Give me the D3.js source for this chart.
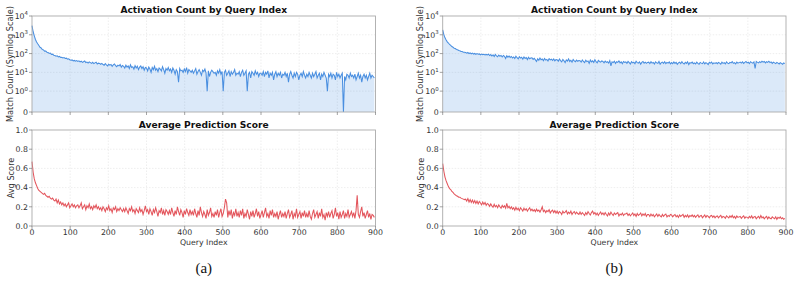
<!DOCTYPE html>
<html lang="en">
<head>
<meta charset="UTF-8">
<title>Activation Count and Average Prediction Score</title>
<script src="https://d3js.org/d3.v7.min.js"></script>
<style>
  body { margin: 0; background: #fff; }
  text { font-family: "DejaVu Sans", sans-serif; fill: #333; }
</style>
</head>
<body>
<svg width="799" height="282"></svg>
<script>
// query index step used when reading the curves off the picture
const step = 3;
const queryIdx = d3.range(0, 900, step);
const xTicks = [0, 100, 200, 300, 400, 500, 600, 700, 800, 900];
const countTicks = [0, 1, 10, 100, 1000, 10000];
const countTickLabels = [["0", ""], ["10", "0"], ["10", "1"], ["10", "2"], ["10", "3"], ["10", "4"]];
const scoreTicks = [0, 0.2, 0.4, 0.6, 0.8, 1.0];
const titles = ["Activation Count by Query Index", "Average Prediction Score"];
const captions = ["(a)", "(b)"];

// (a) match counts
const countsA = [
 3100,1450,880,560,410,330,270,215,200,165,158,135,138,118,115,102,106,90,93,82,
 78,72,76,66,70,62,64,58,61,55,57,50,53,47,44,46,41,43,39,42,
 38,41,36,39,34,37,40,33,35,31,36,33,30,34,29,32,35,28,31,30,
 27,30,26,24,29,25,22,27,24,26,21,25,28,23,20,24,22,26,19,23,
 21,17,24,19,22,16,25,18,20,15,23,17,21,14,19,22,16,20,13,18,
 17,12,19,15,10,18,14,21,13,16,11,17,15,12,20,14,9,16,13,18,
 12,15,10,17,13,8,14,11,3,16,12,13,10,15,11,18,9,14,12,10,
 13,9,12,16,8,11,14,10,7,13,11,15,9,1,12,6,10,13,11,9,
 10,7,12,9,14,8,11,1,10,13,7,9,12,6,11,8,10,14,7,9,
 8,11,6,10,13,7,9,12,1,8,10,5,11,9,7,12,8,10,6,9,
 9,7,11,6,10,8,12,5,9,7,10,4,8,11,6,9,7,10,5,8,
 7,10,6,9,3,8,11,7,5,9,6,10,8,4,7,9,6,11,7,5,
 8,6,10,7,5,9,6,8,11,5,7,9,4,8,6,10,7,5,1,8,
 6,9,5,8,7,4,10,6,8,5,7,9,0,6,4,8,7,5,9,6,
 7,5,8,4,6,9,5,7,3,6,8,5,7,4,6,9,5,7,6,5
];
// (b) match counts
const countsB = [
 1850,1020,690,530,420,365,305,275,236,218,192,184,165,160,145,142,130,128,118,117,
 113,104,114,100,108,97,105,94,101,90,99,92,96,86,94,88,92,84,90,85,
 92,78,88,74,85,70,90,76,68,84,72,80,66,79,71,55,76,64,73,62,
 70,58,66,54,72,60,52,68,57,63,50,66,55,61,48,64,53,58,60,49,
 56,46,38,53,44,58,47,51,42,55,45,49,40,54,46,50,43,52,41,48,
 47,39,51,42,36,49,41,33,46,40,52,38,44,35,48,41,37,45,39,43,
 42,35,46,38,33,44,37,40,30,45,36,41,34,47,37,32,43,38,35,41,
 38,32,40,34,37,31,42,22,36,33,39,30,37,34,41,32,36,29,38,34,
 36,30,38,33,28,37,32,35,29,39,33,31,36,27,34,38,31,35,30,34,
 35,29,37,31,34,28,36,32,30,38,27,33,35,30,37,29,34,31,36,28,
 33,29,36,30,34,27,32,35,29,37,31,28,34,30,36,26,33,31,35,29,
 32,28,35,30,27,34,31,29,36,28,33,30,26,34,31,35,28,32,30,33,
 29,34,31,27,35,30,33,28,36,31,29,34,32,37,30,33,28,35,31,33,
 35,31,36,30,34,38,32,35,29,37,33,31,36,16,38,34,32,37,33,39,
 35,38,32,37,34,39,33,36,30,35,32,29,34,31,28,33,30,27,32,29
];
// (a) average score
const scoresA = [
 0.67,0.56,0.49,0.45,0.42,0.39,0.37,0.36,0.35,0.34,0.33,0.34,0.32,0.31,0.30,0.31,0.29,0.28,0.29,0.27,
 0.26,0.28,0.24,0.27,0.23,0.25,0.22,0.24,0.21,0.23,0.20,0.22,0.24,0.19,0.21,0.23,0.20,0.22,0.19,0.21,
 0.22,0.19,0.21,0.24,0.18,0.20,0.22,0.17,0.21,0.19,0.23,0.18,0.20,0.17,0.21,0.19,0.22,0.18,0.20,0.17,
 0.19,0.16,0.20,0.18,0.15,0.19,0.17,0.21,0.16,0.18,0.14,0.19,0.17,0.20,0.15,0.18,0.16,0.19,0.17,0.15,
 0.18,0.15,0.19,0.16,0.13,0.18,0.16,0.20,0.15,0.17,0.13,0.18,0.16,0.14,0.19,0.15,0.17,0.12,0.16,0.21,
 0.15,0.17,0.12,0.18,0.15,0.11,0.17,0.14,0.19,0.15,0.10,0.16,0.14,0.19,0.12,0.16,0.11,0.17,0.15,0.12,
 0.16,0.12,0.19,0.14,0.10,0.16,0.12,0.20,0.15,0.11,0.17,0.14,0.09,0.16,0.12,0.18,0.14,0.11,0.17,0.12,
 0.15,0.11,0.18,0.13,0.09,0.16,0.11,0.20,0.14,0.10,0.15,0.12,0.08,0.17,0.11,0.14,0.19,0.10,0.13,0.09,
 0.15,0.11,0.17,0.09,0.14,0.18,0.10,0.13,0.19,0.28,0.24,0.09,0.16,0.11,0.17,0.08,0.14,0.11,0.18,0.10,
 0.14,0.09,0.16,0.11,0.18,0.08,0.13,0.10,0.17,0.12,0.07,0.15,0.10,0.16,0.09,0.13,0.18,0.10,0.15,0.08,
 0.12,0.16,0.09,0.14,0.19,0.10,0.13,0.08,0.16,0.11,0.17,0.09,0.13,0.10,0.15,0.07,0.12,0.16,0.09,0.13,
 0.10,0.15,0.08,0.13,0.17,0.09,0.12,0.16,0.07,0.13,0.10,0.18,0.09,0.12,0.15,0.08,0.14,0.10,0.16,0.09,
 0.13,0.09,0.16,0.10,0.07,0.13,0.17,0.09,0.12,0.15,0.08,0.14,0.10,0.18,0.09,0.12,0.06,0.14,0.10,0.15,
 0.09,0.13,0.16,0.08,0.12,0.19,0.10,0.14,0.07,0.15,0.09,0.12,0.16,0.08,0.13,0.10,0.17,0.09,0.12,0.15,
 0.10,0.14,0.08,0.16,0.32,0.12,0.09,0.15,0.20,0.10,0.14,0.08,0.12,0.16,0.09,0.13,0.07,0.12,0.11,0.09
];
// (b) average score
const scoresB = [
 0.65,0.57,0.51,0.47,0.44,0.41,0.39,0.38,0.36,0.35,0.335,0.325,0.315,0.31,0.30,0.30,0.29,0.285,0.28,0.275,
 0.28,0.26,0.285,0.25,0.275,0.245,0.27,0.24,0.265,0.235,0.26,0.23,0.255,0.24,0.22,0.25,0.225,0.245,0.215,0.235,
 0.225,0.205,0.23,0.21,0.195,0.225,0.2,0.215,0.19,0.22,0.2,0.185,0.215,0.195,0.21,0.185,0.235,0.19,0.205,0.18,
 0.2,0.175,0.19,0.165,0.195,0.17,0.185,0.16,0.19,0.175,0.155,0.185,0.165,0.18,0.155,0.175,0.19,0.16,0.175,0.155,
 0.17,0.15,0.175,0.155,0.165,0.145,0.17,0.2,0.15,0.165,0.14,0.16,0.15,0.17,0.135,0.155,0.165,0.14,0.16,0.135,
 0.155,0.13,0.15,0.14,0.12,0.155,0.135,0.145,0.16,0.125,0.145,0.13,0.155,0.12,0.14,0.15,0.125,0.145,0.13,0.12,
 0.145,0.12,0.14,0.125,0.11,0.14,0.12,0.15,0.13,0.115,0.14,0.155,0.125,0.14,0.115,0.135,0.11,0.13,0.145,0.12,
 0.135,0.115,0.14,0.12,0.105,0.135,0.115,0.145,0.125,0.11,0.135,0.12,0.13,0.14,0.105,0.125,0.115,0.135,0.11,0.125,
 0.125,0.135,0.11,0.125,0.105,0.12,0.135,0.11,0.125,0.1,0.13,0.11,0.12,0.135,0.105,0.125,0.11,0.13,0.1,0.12,
 0.12,0.1,0.125,0.105,0.12,0.095,0.11,0.125,0.1,0.12,0.105,0.095,0.12,0.1,0.115,0.125,0.095,0.11,0.1,0.12,
 0.115,0.095,0.11,0.12,0.095,0.11,0.09,0.115,0.1,0.11,0.12,0.09,0.11,0.095,0.115,0.09,0.11,0.1,0.115,0.095,
 0.11,0.09,0.105,0.115,0.09,0.105,0.11,0.085,0.1,0.115,0.09,0.11,0.1,0.085,0.105,0.11,0.09,0.105,0.085,0.1,
 0.105,0.085,0.1,0.11,0.085,0.1,0.095,0.08,0.105,0.095,0.085,0.105,0.09,0.11,0.085,0.1,0.08,0.105,0.09,0.095,
 0.1,0.08,0.095,0.105,0.08,0.095,0.09,0.08,0.1,0.085,0.105,0.08,0.095,0.1,0.075,0.09,0.1,0.08,0.11,0.085,
 0.095,0.075,0.09,0.1,0.075,0.095,0.08,0.075,0.095,0.085,0.075,0.095,0.07,0.09,0.08,0.095,0.075,0.085,0.07,0.08
];

const panels = [
  { left: 32, right: 375.5, counts: countsA, scores: scoresA, caption: captions[0] },
  { left: 442.7, right: 786, counts: countsB, scores: scoresB, caption: captions[1] }
];

const topY = [16, 112], botY = [130, 226];
const blue = "#4a8fe0", red = "#e0424a";

// matplotlib style symlog (linthresh 1, linscale 1, base 10)
const linAdj = 1 / (1 - 1 / 10);
const symlog = v => v <= 1 ? v * linAdj : linAdj + Math.log10(v);

const svg = d3.select("svg");

function grid(g, x, y, yTicks, yPos) {
  g.append("g").selectAll("line").data(xTicks.slice(1, -1)).join("line")
    .attr("x1", d => x(d)).attr("x2", d => x(d))
    .attr("y1", y.range()[0]).attr("y2", y.range()[1])
    .attr("stroke", "#e2e2e2").attr("stroke-width", 0.6).attr("stroke-dasharray", "1.5,1.5");
  g.append("g").selectAll("line").data(yTicks.slice(1, -1)).join("line")
    .attr("x1", x.range()[0]).attr("x2", x.range()[1])
    .attr("y1", d => y(yPos(d))).attr("y2", d => y(yPos(d)))
    .attr("stroke", "#e2e2e2").attr("stroke-width", 0.6).attr("stroke-dasharray", "1.5,1.5");
}

function spines(g, x, y, yTicks, yPos) {
  const [x0, x1] = x.range(), [y0, y1] = y.range();
  g.append("rect").attr("x", x0).attr("y", y1).attr("width", x1 - x0).attr("height", y0 - y1)
    .attr("fill", "none").attr("stroke", "#aaa").attr("stroke-width", 0.9);
  g.append("g").selectAll("line").data(xTicks).join("line")
    .attr("x1", d => x(d)).attr("x2", d => x(d)).attr("y1", y0).attr("y2", y0 + 3)
    .attr("stroke", "#666").attr("stroke-width", 0.6);
  g.append("g").selectAll("line").data(yTicks).join("line")
    .attr("x1", x0 - 3).attr("x2", x0).attr("y1", d => y(yPos(d))).attr("y2", d => y(yPos(d)))
    .attr("stroke", "#666").attr("stroke-width", 0.6);
}

panels.forEach(p => {
  const g = svg.append("g");
  const x = d3.scaleLinear().domain([0, 900]).range([p.left, p.right]);
  const yC = d3.scaleLinear().domain([0, symlog(10000)]).range([topY[1], topY[0]]);
  const yS = d3.scaleLinear().domain([0, 1]).range([botY[1], botY[0]]);
  const mid = (p.left + p.right) / 2;

  // ---- top: counts
  grid(g, x, yC, countTicks, symlog);
  const area = d3.area()
    .x((d, i) => x(queryIdx[i])).y0(yC(0)).y1(d => yC(symlog(d)));
  g.append("path").datum(p.counts).attr("d", area).attr("fill", blue).attr("fill-opacity", 0.2);
  const lineC = d3.line().x((d, i) => x(queryIdx[i])).y(d => yC(symlog(d)));
  g.append("path").datum(p.counts).attr("d", lineC)
    .attr("fill", "none").attr("stroke", blue).attr("stroke-width", 1.05);
  spines(g, x, yC, countTicks, symlog);

  const lab = g.append("g").selectAll("text").data(countTicks).join("text")
    .attr("x", p.left - 4).attr("y", d => yC(symlog(d)) + 3)
    .attr("text-anchor", "end").attr("font-size", 7.8);
  lab.append("tspan").text((d, i) => countTickLabels[i][0]);
  lab.append("tspan").attr("font-size", 5.4).attr("dy", -3.6).text((d, i) => countTickLabels[i][1]);

  g.append("text").attr("x", mid).attr("y", 13).attr("text-anchor", "middle")
    .attr("font-size", 9.1).attr("font-weight", "bold").style("fill", "#111").text(titles[0]);
  g.append("text").attr("transform", `translate(${p.left - 19.5},${(topY[0] + topY[1]) / 2}) rotate(-90)`)
    .attr("text-anchor", "middle").attr("font-size", 8.2).text("Match Count (Symlog Scale)");

  // ---- bottom: scores
  grid(g, x, yS, scoreTicks, d => d);
  const lineS = d3.line().x((d, i) => x(queryIdx[i])).y(d => yS(d));
  g.append("path").datum(p.scores).attr("d", lineS)
    .attr("fill", "none").attr("stroke", red).attr("stroke-width", 1.05).attr("stroke-opacity", 0.9);
  spines(g, x, yS, scoreTicks, d => d);

  g.append("g").selectAll("text").data(scoreTicks).join("text")
    .attr("x", p.left - 4).attr("y", d => yS(d) + 2.8)
    .attr("text-anchor", "end").attr("font-size", 7.8).text(d => d3.format(".1f")(d));
  g.append("g").selectAll("text").data(xTicks).join("text")
    .attr("x", d => x(d)).attr("y", botY[1] + 9.3)
    .attr("text-anchor", "middle").attr("font-size", 7.8).text(d => d);

  g.append("text").attr("x", mid).attr("y", 127.5).attr("text-anchor", "middle")
    .attr("font-size", 9.1).attr("font-weight", "bold").style("fill", "#111").text(titles[1]);
  g.append("text").attr("transform", `translate(${p.left - 18.5},${(botY[0] + botY[1]) / 2}) rotate(-90)`)
    .attr("text-anchor", "middle").attr("font-size", 8.2).text("Avg Score");
  g.append("text").attr("x", mid).attr("y", 244.5).attr("text-anchor", "middle")
    .attr("font-size", 7.8).text("Query Index");

  g.append("text").attr("x", mid).attr("y", 272.5).attr("text-anchor", "middle")
    .attr("font-size", 15).style("font-family", "'Liberation Serif', serif").style("fill", "#111")
    .text(p.caption);
});
</script>
</body>
</html>
